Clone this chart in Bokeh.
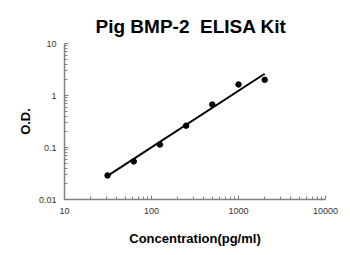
from bokeh.plotting import figure
from bokeh.models import FixedTicker, Title
from bokeh.embed import file_html
from bokeh.resources import INLINE

conc = [31.25, 62.5, 125, 250, 500, 1000, 2000]
od = [0.029, 0.054, 0.114, 0.263, 0.67, 1.63, 2.0]
fit_x = [31.25, 2000]
fit_y = [0.0285, 2.62]

x_ticks = [10, 100, 1000, 10000]
x_tick_labels = ["10", "100", "1000", "10000"]
y_ticks = [0.01, 0.1, 1, 10]
y_tick_labels = ["0.01", "0.1", "1", "10"]

FONT = "Liberation Sans"

p = figure(width=350, height=255, x_axis_type="log", y_axis_type="log",
           x_range=(10, 10000), y_range=(0.01, 10),
           output_backend="svg", toolbar_location=None,
           min_border_left=64, min_border_right=25, min_border_top=43, min_border_bottom=56)
p.title = Title(text="Pig BMP-2\u00a0\u00a0ELISA Kit", align="left", text_font=FONT,
                text_font_size="19px", text_font_style="bold", text_color="#000000", offset=31,
                standoff=14)
p.outline_line_color = None
p.xgrid.visible = False
p.ygrid.visible = False
p.background_fill_color = "white"
p.border_fill_color = "white"

def minors(ticks):
    out = []
    for t in ticks[:-1]:
        for k in range(2, 10):
            out.append(t * k)
    return out

p.xaxis.ticker = FixedTicker(ticks=x_ticks, minor_ticks=minors(x_ticks))
p.yaxis.ticker = FixedTicker(ticks=y_ticks, minor_ticks=minors(y_ticks))
p.xaxis.major_label_overrides = {t: l for t, l in zip(x_ticks, x_tick_labels)}
p.yaxis.major_label_overrides = {t: l for t, l in zip(y_ticks, y_tick_labels)}

for ax in (p.xaxis, p.yaxis):
    ax.axis_line_color = "#808080"
    ax.axis_line_width = 1.5
    ax.major_tick_line_color = "#808080"
    ax.minor_tick_line_color = "#808080"
    ax.major_tick_in = 4
    ax.major_tick_out = 0
    ax.minor_tick_in = 3
    ax.minor_tick_out = 0
    ax.major_label_text_font = FONT
    ax.major_label_text_font_size = "9px"
    ax.major_label_text_color = "#333333"
    ax.major_label_standoff = 8

p.xaxis.axis_label = "Concentration(pg/ml)"
p.xaxis.axis_label_text_font = FONT
p.xaxis.axis_label_text_font_size = "13px"
p.xaxis.axis_label_text_font_style = "bold"
p.xaxis.axis_label_text_color = "#000000"
p.xaxis.axis_label_standoff = 14

p.add_layout(Title(text="O.D.", align="center", offset=24, text_font=FONT,
                   text_font_size="13px", text_font_style="bold", text_color="#000000",
                   standoff=6), "left")

p.line(fit_x, fit_y, line_color="black", line_width=2)
p.scatter(conc, od, size=5.5, color="black")

open("out.html", "w").write(file_html(p, INLINE))
